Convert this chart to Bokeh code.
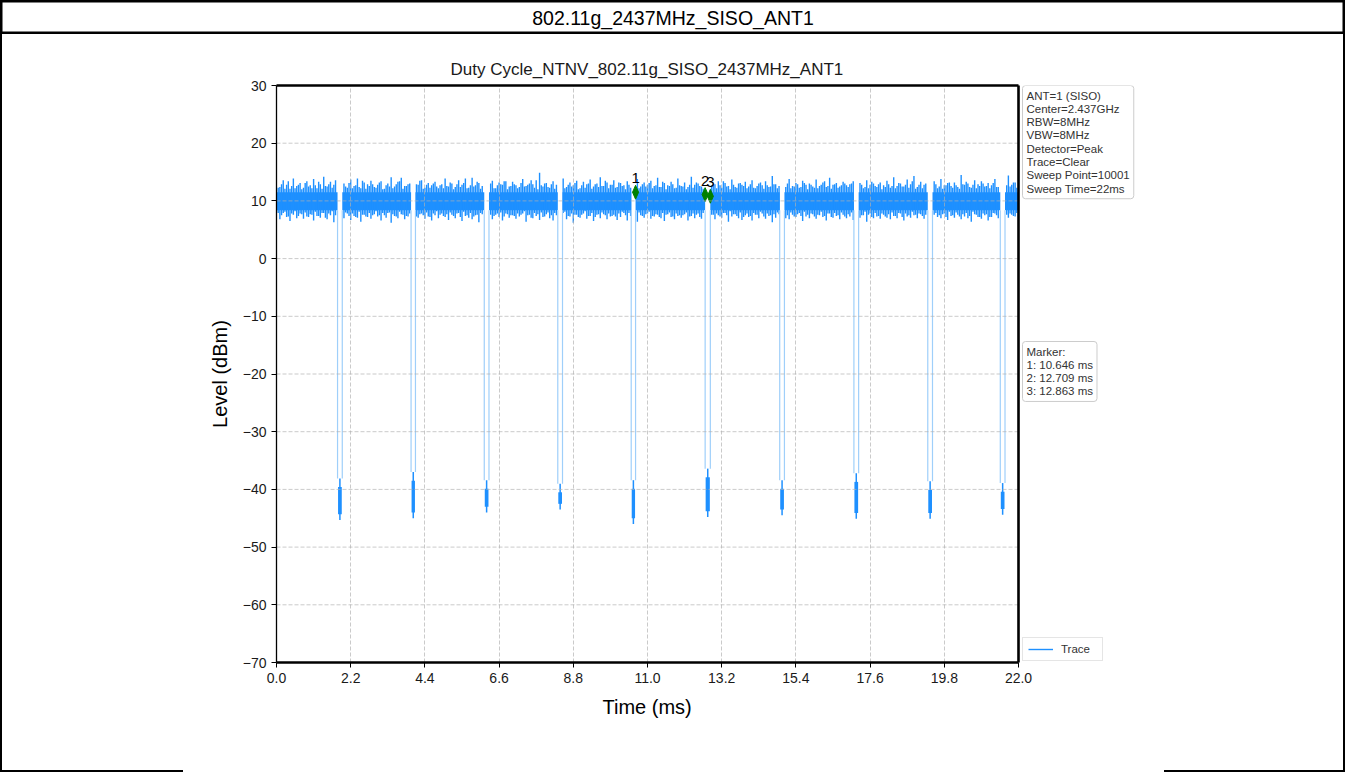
import numpy as np
from bokeh.plotting import figure
from bokeh.layouts import column
from bokeh.models import (Range1d, FixedTicker, CustomJSTickFormatter, Label,
                          Legend, LegendItem, Title)
from bokeh.core.properties import value
from bokeh.embed import file_html
from bokeh.resources import INLINE

FONT = "Liberation Sans"
BLUE = "#1E90FF"

# ---------------- data ----------------
header_text = "802.11g_2437MHz_SISO_ANT1"
chart_title = "Duty Cycle_NTNV_802.11g_SISO_2437MHz_ANT1"
x_label = "Time (ms)"
y_label = "Level (dBm)"

x_ticks = [0.0, 2.2, 4.4, 6.6, 8.8, 11.0, 13.2, 15.4, 17.6, 19.8, 22.0]
x_tick_labels = ["0.0", "2.2", "4.4", "6.6", "8.8", "11.0", "13.2", "15.4", "17.6", "19.8", "22.0"]
y_ticks = [-70, -60, -50, -40, -30, -20, -10, 0, 10, 20, 30]
y_tick_labels = ["\u221270", "\u221260", "\u221250", "\u221240", "\u221230", "\u221220",
                 "\u221210", "0", "10", "20", "30"]
x_min, x_max = 0.0, 22.0
y_min, y_max = -70, 30

info_lines = ["ANT=1 (SISO)", "Center=2.437GHz", "RBW=8MHz", "VBW=8MHz",
              "Detector=Peak", "Trace=Clear", "Sweep Point=10001", "Sweep Time=22ms"]
marker_lines = ["Marker:", "1: 10.646 ms", "2: 12.709 ms", "3: 12.863 ms"]
trace_name = "Trace"

# trace envelope sampled every 0.1 ms (0.0 .. 22.0)
time_ms = np.round(np.arange(0, 221) * 0.1, 2)
upper_dbm = [
    13.2, 12.4, 13.6, 12.8, 12.1, 13.9, 12.6, 13.1, 12.3, 13.4,
    12.7, 13.8, 12.2, 12.9, 14.2, 12.5, 13.3, 12.8, 13.5, 12.4,
    13.0, 12.3, 13.7, 12.6, 13.9, 12.2, 13.2, 12.9, 13.5, 12.4,
    12.8, 13.4, 12.1, 13.0, 14.1, 12.5, 13.3, 14.0, 12.6, 12.9,
    13.2, 12.4, 12.8, 13.6, 12.3, 13.1, 12.7, 13.3, 12.2, 12.9,
    13.9, 12.5, 13.0, 12.4, 13.6, 12.8, 13.9, 12.3, 14.0, 12.7,
    13.1, 12.6, 13.0, 12.4, 13.5, 12.2, 13.2, 12.8, 13.4, 12.5,
    13.3, 12.7, 12.4, 13.8, 12.6, 13.0, 12.9, 13.6, 14.9, 12.5,
    13.1, 12.3, 13.4, 12.8, 12.6, 13.9, 12.4, 13.2, 12.7, 13.5,
    12.2, 13.3, 12.9, 13.7, 12.5, 13.0, 14.1, 12.6, 13.2, 12.8,
    13.6, 12.4, 13.1, 12.7, 13.4, 12.3, 12.9, 13.8, 12.5, 13.2,
    12.8, 13.5, 12.6, 14.0, 12.4, 13.1, 12.7, 13.3, 12.2, 13.9,
    12.6, 13.2, 12.4, 14.2, 12.8, 13.0, 12.5, 13.6, 13.2, 12.7,
    12.9, 13.4, 12.3, 13.1, 12.6, 13.7, 12.4, 13.0, 12.8, 13.3,
    12.5, 13.6, 12.2, 13.0, 12.7, 13.4, 12.4, 14.3, 12.9, 12.6,
    13.2, 12.4, 13.8, 12.6, 13.1, 12.3, 13.5, 12.8, 13.0, 12.5,
    13.7, 12.6, 13.2, 12.4, 14.0, 12.8, 13.1, 12.5, 13.3, 12.7,
    12.9, 13.4, 12.6, 13.1, 12.2, 13.6, 12.8, 13.0, 12.4, 13.2,
    12.7, 13.5, 12.3, 14.1, 12.6, 13.0, 12.5, 13.7, 12.9, 14.3,
    12.4, 13.3, 12.8, 13.0, 12.5, 13.4, 12.2, 13.8, 12.7, 13.1,
    12.6, 13.2, 12.4, 14.5, 12.8, 13.0, 12.3, 13.6, 12.9, 13.4,
    12.5, 13.1, 12.7, 13.8, 12.4, 13.0, 12.6, 14.4, 12.8, 13.2,
    12.9]
lower_dbm = [
    7.4, 6.8, 7.9, 7.2, 6.5, 7.6, 7.0, 7.8, 6.9, 7.3,
    7.7, 6.6, 7.4, 7.1, 7.9, 6.8, 7.5, 6.3, 7.2, 7.6,
    7.0, 7.8, 6.7, 7.4, 7.1, 6.4, 7.6, 7.2, 6.9, 7.7,
    7.3, 6.6, 7.5, 7.9, 6.2, 7.4, 7.0, 7.7, 6.8, 7.3,
    6.5, 7.6, 7.1, 7.8, 6.9, 7.3, 6.6, 7.5, 7.0, 7.8,
    7.2, 6.7, 7.6, 7.0, 7.9, 6.5, 7.4, 7.1, 6.8, 7.5,
    6.3, 7.7, 7.0, 7.4, 6.8, 7.6, 7.2, 6.6, 7.8, 7.1,
    7.5, 6.9, 7.3, 7.8, 6.4, 7.6, 7.0, 7.4, 6.7, 7.2,
    7.7, 7.0, 6.6, 7.5, 7.1, 7.9, 6.8, 7.3, 6.2, 7.6,
    7.1, 7.8, 6.9, 7.4, 6.5, 7.6, 7.0, 7.7, 6.8, 7.3,
    7.6, 6.7, 7.2, 7.9, 6.6, 7.4, 7.0, 6.4, 7.5, 7.1,
    7.8, 6.9, 7.3, 7.6, 7.0, 6.5, 7.7, 7.2, 6.8, 7.4,
    7.1, 7.7, 6.6, 7.4, 7.0, 7.8, 6.9, 5.8, 7.3, 7.6,
    6.8, 7.5, 7.1, 7.9, 6.4, 7.3, 7.7, 7.0, 6.7, 7.5,
    7.2, 6.6, 7.6, 7.0, 7.8, 6.9, 7.4, 6.3, 7.1, 7.7,
    7.4, 7.0, 6.8, 7.6, 7.2, 7.9, 6.5, 7.3, 7.0, 7.7,
    6.9, 7.5, 7.2, 6.6, 7.8, 7.1, 7.4, 6.8, 7.6, 7.0,
    7.3, 6.7, 7.7, 7.1, 7.5, 6.4, 7.8, 7.0, 7.3, 6.9,
    7.6, 7.1, 6.8, 7.4, 7.0, 7.8, 6.6, 7.3, 7.1, 7.5,
    7.0, 7.7, 6.9, 7.3, 6.5, 7.6, 7.2, 7.0, 7.8, 6.7,
    7.4, 7.1, 7.6, 6.8, 7.3, 7.0, 6.4, 7.7, 7.2, 6.9,
    7.5, 6.6, 7.2, 7.8, 7.0, 7.4, 5.9, 7.1, 7.6, 7.3,
    7.0]
# in-between samples (0.05 .. 21.95 ms)
time_mid_ms = np.round(np.arange(0, 220) * 0.1 + 0.05, 2)
upper_mid_dbm = [
    12.3, 12.9, 12.1, 13.4, 12.6, 12.2, 12.8, 12.0, 13.1, 12.5,
    12.2, 12.7, 13.3, 12.1, 12.6, 12.9, 12.3, 13.6, 12.0, 12.8,
    12.5, 13.1, 12.2, 12.7, 12.4, 13.5, 12.1, 12.6, 12.9, 12.3,
    13.2, 12.0, 12.7, 12.5, 12.2, 12.9, 13.4, 12.1, 12.6, 13.0,
    12.4, 12.9, 13.5, 12.1, 12.8, 12.3, 13.0, 12.5, 12.7, 12.2,
    12.6, 13.2, 12.0, 12.9, 12.4, 13.1, 12.2, 12.7, 12.5, 13.3,
    12.1, 12.8, 12.4, 13.0, 12.2, 12.7, 12.9, 13.4, 12.0, 12.6,
    12.9, 12.2, 13.1, 12.5, 12.8, 13.6, 12.3, 12.0, 12.7, 13.0,
    12.4, 12.9, 12.1, 12.6, 13.3, 12.2, 12.8, 12.5, 13.1, 12.0,
    12.7, 12.3, 13.0, 12.1, 12.9, 12.4, 12.6, 13.5, 12.2, 12.8,
    12.3, 13.2, 12.6, 12.0, 12.8, 13.0, 12.4, 12.2, 12.9, 12.5,
    13.1, 12.2, 12.7, 12.4, 13.3, 12.0, 12.6, 12.9, 12.3, 12.7,
    12.5, 12.0, 12.8, 12.3, 13.2, 12.6, 12.1, 12.9, 12.4, 13.0,
    12.2, 12.7, 13.4, 12.5, 12.0, 12.8, 12.3, 13.1, 12.6, 12.2,
    12.9, 12.3, 12.6, 13.2, 12.1, 12.7, 12.5, 12.9, 12.2, 13.3,
    12.6, 13.0, 12.2, 12.5, 12.9, 12.4, 13.1, 12.0, 12.8, 12.3,
    12.2, 12.8, 13.4, 12.6, 12.1, 12.9, 12.3, 12.7, 13.0, 12.4,
    13.0, 12.5, 12.1, 12.8, 12.4, 12.2, 13.3, 12.6, 12.9, 12.0,
    12.4, 12.9, 12.6, 12.2, 13.1, 12.5, 12.8, 12.3, 13.4, 12.1,
    12.8, 12.2, 13.0, 12.6, 12.3, 12.9, 12.5, 12.1, 12.7, 13.2,
    12.3, 12.7, 12.1, 12.9, 13.3, 12.4, 12.8, 12.2, 12.6, 13.0,
    12.6, 12.2, 13.1, 12.4, 12.8, 12.0, 12.7, 12.5, 13.2, 12.3]
lower_mid_dbm = [
    7.9, 7.5, 8.1, 7.3, 7.8, 8.2, 7.4, 7.7, 8.0, 7.2,
    7.6, 8.1, 7.4, 7.9, 7.1, 7.8, 8.2, 7.5, 7.7, 7.3,
    8.0, 7.4, 7.8, 7.2, 8.1, 7.6, 7.3, 7.9, 7.5, 8.2,
    7.5, 7.9, 7.1, 8.0, 7.7, 7.3, 8.1, 7.6, 7.4, 7.8,
    8.1, 7.3, 7.7, 7.5, 8.0, 7.2, 7.8, 8.2, 7.6, 7.4,
    7.7, 8.0, 7.4, 7.8, 7.2, 8.1, 7.5, 7.9, 7.3, 7.6,
    7.9, 7.2, 8.1, 7.6, 7.4, 7.8, 8.0, 7.3, 7.7, 7.5,
    7.4, 7.8, 7.6, 8.2, 7.5, 7.1, 7.9, 7.7, 8.0, 7.3,
    8.0, 7.5, 7.9, 7.3, 7.7, 8.1, 7.4, 7.8, 7.6, 7.2,
    7.6, 8.2, 7.4, 7.9, 7.2, 7.7, 8.0, 7.5, 7.8, 7.4,
    7.3, 7.8, 8.1, 7.5, 7.9, 7.2, 7.6, 8.0, 7.4, 7.7,
    8.1, 7.4, 7.7, 7.2, 7.9, 7.6, 8.0, 7.3, 7.8, 7.5,
    7.5, 8.0, 7.3, 7.8, 7.6, 7.2, 7.9, 7.4, 8.1, 7.6,
    7.8, 7.3, 7.9, 7.5, 8.2, 7.7, 7.4, 8.0, 7.2, 7.8,
    7.4, 7.9, 7.6, 8.1, 7.3, 7.8, 7.5, 7.7, 8.0, 7.2,
    7.9, 7.5, 8.0, 7.3, 7.7, 7.4, 8.1, 7.6, 7.8, 7.3,
    7.6, 8.1, 7.4, 7.8, 7.2, 7.9, 7.5, 8.0, 7.3, 7.7,
    8.0, 7.3, 7.8, 7.5, 8.1, 7.6, 7.2, 7.9, 7.4, 7.8,
    7.3, 7.7, 8.0, 7.4, 7.9, 7.2, 7.8, 7.5, 8.1, 7.6,
    7.8, 7.4, 7.6, 8.0, 7.3, 7.9, 7.5, 7.7, 7.2, 8.1,
    7.5, 8.0, 7.3, 7.7, 7.9, 7.4, 8.1, 7.6, 7.2, 7.8,
    7.7, 7.2, 7.9, 7.5, 8.0, 7.3, 7.6, 7.8, 7.4, 7.9]
core_upper_dbm = 11.5
core_lower_dbm = 8.4

# transmission gaps (dips)
dip_start_ms = [1.81, 3.99, 6.16, 8.34, 10.517, 12.709, 14.92, 17.12, 19.31, 21.46]
dip_end_ms = [1.95, 4.12, 6.30, 8.48, 10.646, 12.863, 15.06, 17.26, 19.45, 21.60]
dip_shelf_dbm = [-38.1, -37.0, -38.4, -39.0, -38.4, -36.4, -38.4, -37.2, -38.6, -38.9]
dip_floor_dbm = [-45.3, -45.0, -44.0, -43.5, -46.0, -44.8, -44.5, -45.1, -45.1, -44.4]

# markers
marker_ms = [10.646, 12.709, 12.863]
marker_dbm = [11.5, 11.1, 10.8]
marker_names = ["1", "2", "3"]

# ---------------- layout constants (pixels) ----------------
PAGE_W = 1345
FRAME_L = 274          # canvas px left of the plot area
AXES_W = 742           # width of the 0..22 ms axes box
SIDE_W = PAGE_W - FRAME_L - AXES_W   # room right of the axes for the info boxes
x_view_max = x_max + (x_max - x_min) * SIDE_W / AXES_W

# ---------------- header ----------------
hdr = figure(width=PAGE_W, height=34, x_range=Range1d(0, 1), y_range=Range1d(0, 1),
             toolbar_location=None, output_backend="svg",
             x_axis_location=None, y_axis_location=None, min_border=0)
hdr.frame_align = False
hdr.title.visible = False
hdr.grid.visible = False
hdr.outline_line_color = "black"
hdr.outline_line_width = 4
hdr.background_fill_color = "white"
hdr.border_fill_color = "white"
hdr.add_layout(Label(x=0.5, y=0.5, text=header_text, text_align="center",
                     text_baseline="middle", text_font_size="19.5px",
                     text_font=FONT, text_color="black"))

# ---------------- main chart ----------------
p = figure(width=PAGE_W, height=738, x_range=Range1d(x_min, x_view_max),
           y_range=Range1d(y_min, y_max),
           toolbar_location=None, output_backend="svg",
           min_border_left=FRAME_L, min_border_right=0, min_border_top=51,
           min_border_bottom=110)
p.frame_align = False
p.styles = {"border-left": "2px solid black", "border-right": "2px solid black",
            "border-bottom": "2px solid black",
            "border-image": "linear-gradient(to right, black 182px, transparent 182px, "
                            "transparent 1165px, black 1165px) 1"}
p.background_fill_color = "white"
p.border_fill_color = "white"
p.outline_line_color = None

p.title.text = chart_title
p.title.align = "left"
p.title.offset = 174
p.title.text_font = FONT
p.title.text_font_size = "17px"
p.title.text_font_style = "normal"
p.title.text_color = "#1a1a1a"
p.title.standoff = 14

p.xaxis.ticker = FixedTicker(ticks=x_ticks)
p.yaxis.ticker = FixedTicker(ticks=y_ticks)
p.xaxis.formatter = CustomJSTickFormatter(args=dict(labels=x_tick_labels), code="return labels[index];")
p.yaxis.formatter = CustomJSTickFormatter(args=dict(labels=y_tick_labels), code="return labels[index];")
p.yaxis.axis_label = y_label
for ax in (p.xaxis, p.yaxis):
    ax.axis_label_text_font = FONT
    ax.axis_label_text_font_size = "20px"
    ax.axis_label_text_font_style = "normal"
    ax.axis_label_text_color = "black"
    ax.major_label_text_font = FONT
    ax.major_label_text_font_size = "14px"
    ax.major_label_text_color = "#1a1a1a"
    ax.axis_line_color = "black"
    ax.axis_line_width = 1.3
    ax.major_tick_line_color = "black"
    ax.major_tick_in = 0
    ax.major_tick_out = 5
    ax.minor_tick_line_color = None
    ax.major_label_standoff = 5
p.xaxis.axis_line_color = None
p.yaxis.axis_label_standoff = 9
p.add_layout(Title(text=x_label, align="left", offset=326, text_font=FONT,
                   text_font_size="20px", text_font_style="normal",
                   text_color="black", standoff=16), "below")

# grid: vertical from the axis ticks, horizontal drawn only across the axes box
p.xgrid.grid_line_color = "#b0b0b0"
p.xgrid.grid_line_dash = "4 2"
p.xgrid.grid_line_width = 0.8
p.xgrid.grid_line_alpha = 0.85
p.xgrid.level = "guide"
p.ygrid.visible = False
p.segment(x0=x_min, x1=x_max, y0=y_ticks, y1=y_ticks, line_color="#b0b0b0",
          line_dash="4 2", line_width=0.8, line_alpha=0.85, level="guide")

# on-air intervals between the gaps
on_start = [x_min] + dip_end_ms
on_end = dip_start_ms + [x_max]


def on_air(t):
    t = np.asarray(t)
    keep = np.zeros(len(t), dtype=bool)
    for a, b in zip(on_start, on_end):
        keep |= (t > a + 0.01) & (t < b - 0.01)
    return keep


# dense core of the noisy trace
p.quad(left=on_start, right=on_end, bottom=core_lower_dbm, top=core_upper_dbm,
       fill_color=BLUE, line_color=None)

# noise spikes (envelope)
k1 = on_air(time_ms)
spikes = p.segment(x0=time_ms[k1], y0=np.asarray(lower_dbm)[k1],
                   x1=time_ms[k1], y1=np.asarray(upper_dbm)[k1],
                   line_color=BLUE, line_width=1.4)
k2 = on_air(time_mid_ms)
p.segment(x0=time_mid_ms[k2], y0=np.asarray(lower_mid_dbm)[k2],
          x1=time_mid_ms[k2], y1=np.asarray(upper_mid_dbm)[k2],
          line_color=BLUE, line_width=1.4)

# falling / rising edges of the gaps
p.segment(x0=dip_start_ms, y0=core_lower_dbm, x1=dip_start_ms, y1=dip_shelf_dbm,
          line_color="#9fcffa", line_width=1.2)
p.segment(x0=dip_end_ms, y0=core_lower_dbm, x1=dip_end_ms, y1=dip_shelf_dbm,
          line_color="#9fcffa", line_width=1.2)
dip_mid = [(a + b) / 2 for a, b in zip(dip_start_ms, dip_end_ms)]
p.segment(x0=dip_mid, y0=dip_shelf_dbm, x1=dip_mid, y1=dip_floor_dbm,
          line_color=BLUE, line_width=1.5)
p.quad(left=[a + 0.015 for a in dip_start_ms], right=[b - 0.015 for b in dip_end_ms],
       top=[s - 1.5 for s in dip_shelf_dbm], bottom=[f + 1.0 for f in dip_floor_dbm],
       fill_color=BLUE, line_color=None)

# markers: thin diamonds around each marker point
hw, hh = 0.09, 1.2
p.patches(xs=[[m - hw, m, m + hw, m] for m in marker_ms],
          ys=[[v, v + hh, v, v - hh] for v in marker_dbm],
          fill_color="green", line_color="green", line_width=1)
p.text(x=marker_ms, y=marker_dbm, text=marker_names, text_align="center",
       text_baseline="bottom", y_offset=-9, text_font=value(FONT),
       text_font_size="15px", text_color="black")

# axes box (spines) around 0..22 ms x -70..30 dBm
p.segment(x0=[x_min, x_min, x_max], y0=[y_max, y_min, y_min],
          x1=[x_max, x_max, x_max], y1=[y_max, y_min, y_max],
          line_color="black", line_width=2.6, level="annotation")

# side boxes
box_kw = dict(text_align="left", text_baseline="top", text_font=FONT,
              text_font_size="11.5px", text_color="#333333", text_line_height=1.11,
              background_fill_color="white", border_line_color="#cccccc",
              border_line_width=1, padding=4, border_radius=3)
p.add_layout(Label(x=x_max, y=y_max, x_offset=4, y_offset=0,
                   text="\n".join(info_lines), **box_kw))
p.add_layout(Label(x=x_max, y=y_max, x_offset=4, y_offset=-256,
                   text="\n".join(marker_lines), **box_kw))

legend = Legend(items=[LegendItem(label=trace_name, renderers=[spikes])],
                location=(AXES_W + 4, 1), margin=0, padding=5, spacing=0,
                glyph_width=25, glyph_height=12, label_height=12, label_width=36,
                label_standoff=8, label_text_font=FONT, label_text_font_size="11.5px",
                label_text_color="#333333", border_line_color="#cccccc",
                border_line_width=1, background_fill_color="white")
p.add_layout(legend, "center")

layout = column(hdr, p, spacing=0)
open("out.html", "w").write(file_html(layout, INLINE))
